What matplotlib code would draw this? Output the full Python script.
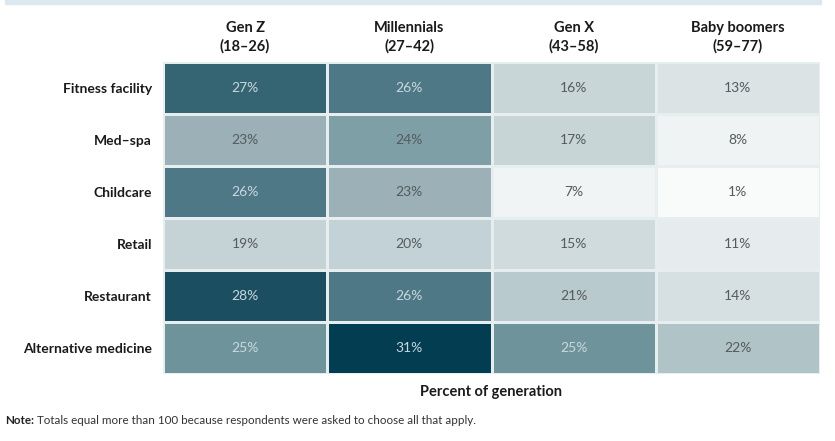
import numpy as np
import matplotlib.pyplot as plt
from matplotlib.colors import LinearSegmentedColormap
from matplotlib.patches import Rectangle

plt.rcParams['font.family'] = ['Lato', 'DejaVu Sans']

# Data
facilities = ['Fitness facility', 'Med–spa', 'Childcare', 'Retail', 'Restaurant', 'Alternative medicine']
generations = ['Gen Z\n(18–26)', 'Millennials\n(27–42)', 'Gen X\n(43–58)', 'Baby boomers\n(59–77)']
gen_z = [27, 23, 26, 19, 28, 25]
millennials = [26, 24, 23, 20, 26, 31]
gen_x = [16, 17, 7, 15, 21, 25]
boomers = [13, 8, 1, 11, 14, 22]

values = np.array([gen_z, millennials, gen_x, boomers]).T

# colour scale (value -> colour)
anchors = [(0, '#fafbfb'), (8, '#f0f3f4'), (12, '#e2e8ea'), (16, '#c9d6d8'),
           (20, '#c3d2d6'), (22, '#b0c3c7'), (23, '#9bb1b7'), (24, '#80a0a7'),
           (25, '#70949b'), (26, '#4f7886'), (27, '#356572'), (28, '#1c4e60'),
           (31, '#033d51')]
vmax = 31
cmap = LinearSegmentedColormap.from_list('teal', [(v / vmax, c) for v, c in anchors])

fig = plt.figure(figsize=(8.35, 4.41), dpi=100)

# light band at the top
fig.patches.append(Rectangle((5 / 835, 1 - 4 / 441), 816 / 835, 4 / 441,
                             transform=fig.transFigure, color='#dbe8ee', zorder=0))

ax = fig.add_axes([163 / 835, 1 - 374 / 441, 657 / 835, 312 / 441])
ax.pcolormesh(values, cmap=cmap, vmin=0, vmax=vmax, edgecolors='#e6eef0', linewidth=1.0)
ax.set_xlim(0, len(generations))
ax.set_ylim(len(facilities), 0)

for i in range(len(facilities)):
    for j in range(len(generations)):
        v = values[i, j]
        col = '#c8d8de' if v >= 25 else '#545b5f'
        ax.text(j + 0.5, i + 0.5, f'{v}%', ha='center', va='center',
                fontsize=10, color=col)

ax.set_xticks(np.arange(len(generations)) + 0.5)
ax.set_xticklabels(generations, fontsize=10.5, fontweight='bold', color='#1a1a1a', linespacing=1.35)
ax.xaxis.tick_top()
ax.set_yticks(np.arange(len(facilities)) + 0.5)
ax.set_yticklabels(facilities, fontsize=10, fontweight='bold', color='#1a1a1a')
ax.tick_params(length=0, pad=8)
ax.tick_params(axis='x', pad=6)
for s in ax.spines.values():
    s.set_visible(False)

ax.set_xlabel('Percent of generation', fontsize=10.5, fontweight='bold', color='#1a1a1a', labelpad=8)

fig.text(5 / 835, 1 - 420 / 441, 'Note:', fontsize=8.4, fontweight='bold', color='#222222', va='center')
fig.text(37 / 835, 1 - 420 / 441, 'Totals equal more than 100 because respondents were asked to choose all that apply.',
         fontsize=8.4, color='#333333', va='center')

fig.savefig('out.png', dpi=100)
